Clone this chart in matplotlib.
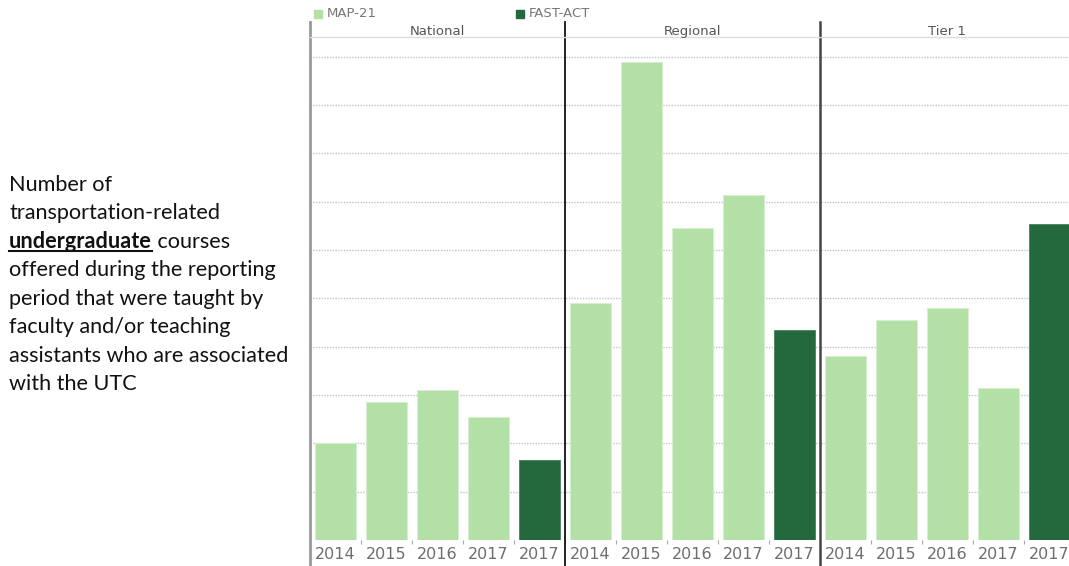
import matplotlib.pyplot as plt
from matplotlib.patches import Rectangle
from matplotlib.lines import Line2D
import matplotlib.transforms as mtrans
import numpy as np

# courses per UTC tier, four MAP-21 years then the FAST-ACT year
groups = ['National', 'Regional', 'Tier 1']
years = ['2014', '2015', '2016', '2017', '2017']
programs = ['MAP-21', 'MAP-21', 'MAP-21', 'MAP-21', 'FAST-ACT']
national = [20, 28.5, 31, 25.5, 16.5]
regional = [49, 99, 64.5, 71.5, 43.5]
tier1 = [38, 45.5, 48, 31.5, 65.5]

colors = {'MAP-21': '#b3e0a6', 'FAST-ACT': '#24693d'}
edges = {'MAP-21': '#d6efcf', 'FAST-ACT': '#4f8a62'}
tick_font = ['Liberation Sans Narrow', 'DejaVu Sans']

W, H = 1069, 566
fig = plt.figure(figsize=(W / 100, H / 100), dpi=100)

def fx(px):
    return px / W

def fy(py):
    return 1 - py / H

ax_left, ax_right, ax_top, ax_bot = 310, 1075, 37, 540
ax = fig.add_axes([fx(ax_left), fy(ax_bot), (ax_right - ax_left) / W, (ax_bot - ax_top) / H])

values = national + regional + tier1
x = np.arange(len(values))
progs = programs * len(groups)
ax.bar(x, values, width=0.8,
       color=[colors[p] for p in progs],
       edgecolor=[edges[p] for p in progs], linewidth=0.7, zorder=3)

ax.set_xlim(-0.5, len(values) - 0.5)
ax.set_ylim(0, 104.1)
ax.set_yticks(np.arange(10, 101, 10))
ax.yaxis.grid(True, color='#c4c4c4', linestyle=(0, (1, 1)), linewidth=1, zorder=0)
ax.tick_params(axis='y', left=False, labelleft=False)

ax.set_xticks(x)
ax.set_xticklabels(years * len(groups), family=tick_font, fontsize=11.5, color='#6e6e6e')
ax.set_xticks(np.arange(0.5, len(values) - 1, 1), minor=True)
ax.tick_params(axis='x', which='major', length=0, pad=5)
ax.tick_params(axis='x', which='minor', length=3, color='#aaaaaa', width=0.8)

for side in ['left', 'right', 'bottom']:
    ax.spines[side].set_visible(False)
ax.spines['top'].set_color('#dddddd')
ax.spines['top'].set_linewidth(1)

# panel borders run through the header row and the year labels
trans = mtrans.blended_transform_factory(ax.transData, ax.transAxes)
y0 = (ax_bot - H) / (ax_bot - ax_top)
y1 = (ax_bot - 22) / (ax_bot - ax_top)
ax.add_line(Line2D([-0.5, -0.5], [y0, y1], transform=trans, color='#999999', lw=2, clip_on=False))
ax.add_line(Line2D([4.5, 4.5], [y0, y1], transform=trans, color='#111111', lw=1.3, clip_on=False))
ax.add_line(Line2D([9.5, 9.5], [y0, y1], transform=trans, color='#444444', lw=1.8, clip_on=False))

head_y = (ax_bot - 31) / (ax_bot - ax_top)
for i, g in enumerate(groups):
    ax.text(i * 5 + 2, head_y, g, transform=trans, ha='center', va='center',
            family=tick_font, fontsize=9.5, color='#555555')

# legend
for sx, label in [(314, 'MAP-21'), (516, 'FAST-ACT')]:
    fig.patches.append(Rectangle((fx(sx), fy(18)), fx(8), 8 / H, transform=fig.transFigure,
                                 color=colors[label], figure=fig))
    fig.text(fx(sx + 13), fy(13.5), label, family=tick_font, fontsize=9.5,
             color='#777777', va='center', ha='left')

# description on the left
text_font = ['Lato', 'DejaVu Sans']
fs = 15.6
lines = ['Number of', 'transportation-related', None,
         'offered during the reporting', 'period that were taught by',
         'faculty and/or teaching', 'assistants who are associated',
         'with the UTC']
base0, step, tx = 190.7, 28.5, 9
for i, line in enumerate(lines):
    by = base0 + step * i
    if line is not None:
        fig.text(fx(tx), fy(by), line, family=text_font, fontsize=fs, color='#111111', va='baseline')
        continue
    bold = fig.text(fx(tx), fy(by), 'undergraduate', family=text_font, fontsize=fs,
                    fontweight='bold', color='#111111', va='baseline')
    r = fig.canvas.get_renderer()
    bb = bold.get_window_extent(renderer=r)
    fig.text(bb.x1 / W, fy(by), ' courses', family=text_font, fontsize=fs,
             color='#111111', va='baseline')
    fig.add_artist(Line2D([bb.x0 / W, bb.x1 / W], [fy(by + 3.5), fy(by + 3.5)],
                          transform=fig.transFigure, color='#111111', lw=1.5))

fig.savefig('out.png', dpi=100)
